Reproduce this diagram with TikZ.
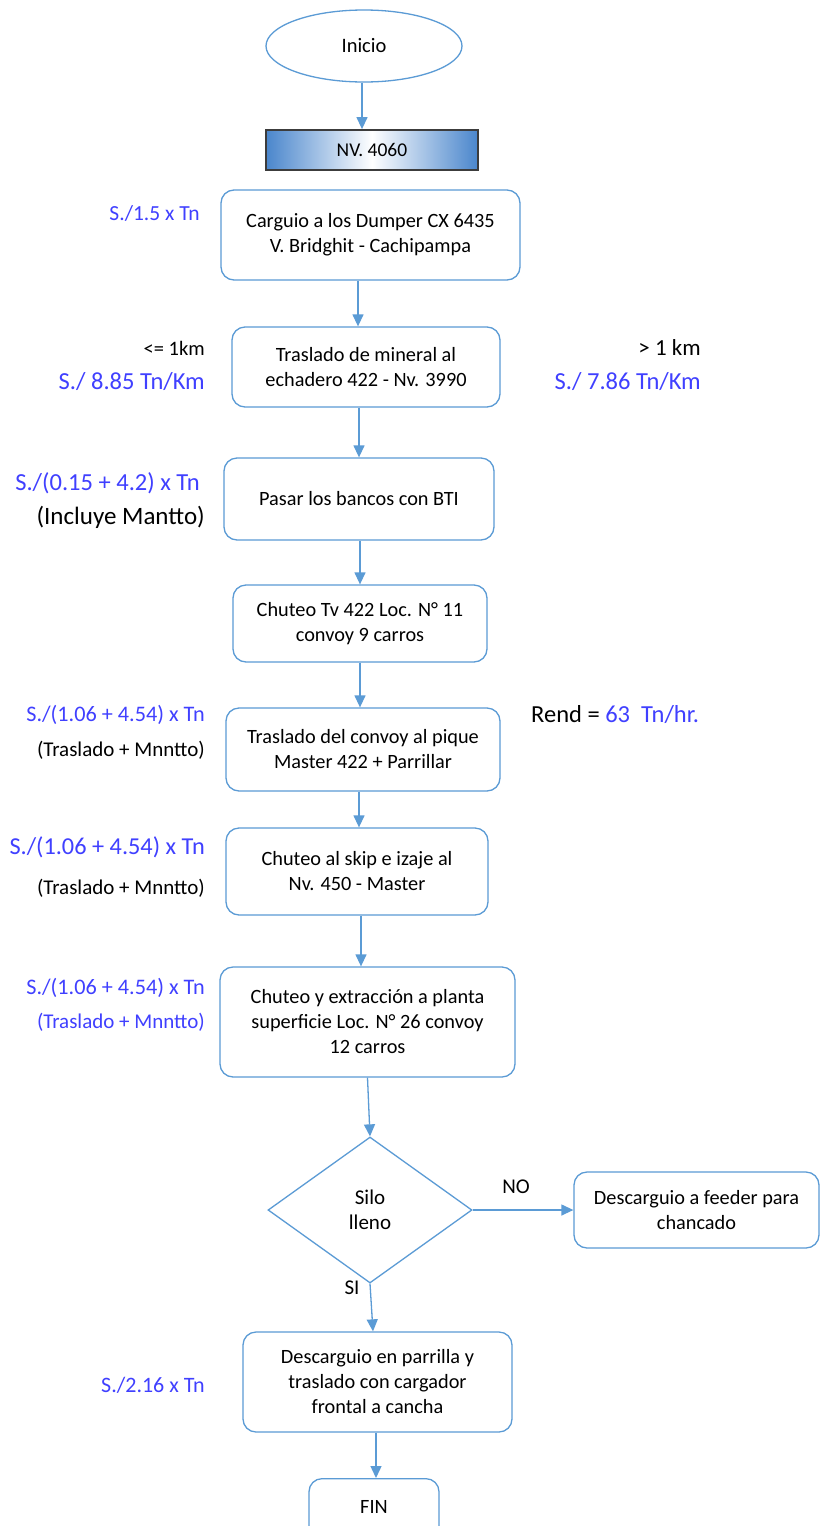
\documentclass[tikz,border=0pt]{standalone}
\usepackage{fontspec}
\setmainfont{Carlito}
\usetikzlibrary{shapes.geometric,arrows.meta}

\definecolor{lineblue}{RGB}{91,155,213}
\definecolor{costblue}{RGB}{64,64,255}
\definecolor{nvblue}{RGB}{74,134,204}
\definecolor{nvedge}{RGB}{60,60,60}

\newcommand{\fs}[1]{\fontsize{#1}{25}\selectfont}

\tikzset{
  x=1pt, y=-1pt,
  proc/.style={draw=lineblue, line width=1.3pt, rounded corners=13pt,
    align=center, inner sep=0pt, font=\fs{20.3}},
  startend/.style={draw=lineblue, line width=1.3pt, ellipse,
    inner sep=0pt, font=\fs{20.5}},
  decision/.style={draw=lineblue, line width=1.3pt, diamond, aspect=1.4,
    inner sep=0pt, align=center, font=\fs{21}},
  arr/.style={draw=lineblue, line width=1.3pt,
    -{Triangle[length=12pt,width=11pt]}},
  cost/.style={text=costblue, anchor=east, inner sep=0pt},
  note/.style={text=black, anchor=east, inner sep=0pt},
}

\begin{document}
\begin{tikzpicture}
\clip (0,0) rectangle (821,1526);
\fill[white] (0,0) rectangle (821,1526);

% main flow
\node[startend, minimum width=196, minimum height=72] (inicio) at (364,46) {Inicio};

\node[draw=nvedge, line width=1.8pt, minimum width=212, minimum height=40,
      inner sep=0pt, font=\fs{19.5},
      left color=nvblue, right color=nvblue, middle color=white]
      (nv) at (372,150) {NV. 4060};

\node[proc, minimum width=299, minimum height=90] (b1) at (370.5,235)
  {Carguio a los Dumper CX 6435\\V. Bridghit - Cachipampa};
\node[proc, minimum width=268, minimum height=80] (b2) at (366,367)
  {Traslado de mineral al\\echadero 422 - Nv. 3990};
\node[proc, minimum width=270, minimum height=82] (b3) at (359,499)
  {Pasar los bancos con BTI};
\node[proc, minimum width=254, minimum height=77] (b4) at (360,623.5)
  {Chuteo Tv 422 Loc. N° 11\\convoy 9 carros};
\node[proc, minimum width=274, minimum height=83] (b5) at (363,749.5)
  {Traslado del convoy al pique\\Master 422 + Parrillar};
\node[proc, minimum width=262, minimum height=87] (b6) at (357,871.5)
  {Chuteo al skip e izaje al\\Nv. 450 - Master};
\node[proc, minimum width=295, minimum height=110] (b7) at (367.5,1022)
  {Chuteo y extracción a planta\\superficie Loc. N° 26 convoy\\12 carros};

\node[decision, minimum width=204, minimum height=146] (silo) at (370,1210)
  {Silo\\lleno};
\node[proc, minimum width=245, minimum height=76] (feeder) at (696.5,1210)
  {Descarguio a feeder para\\chancado};

\node[proc, minimum width=269, minimum height=100] (b8) at (377.5,1382)
  {Descarguio en parrilla y\\traslado con cargador\\frontal a cancha};
\node[proc, anchor=north, minimum width=130, text height=34.5pt, text depth=46pt]
  (fin) at (374,1478) {FIN};

% connectors
\draw[arr] ([xshift=-2]inicio.south) -- ([xshift=-10]nv.north);
\draw[arr] ([xshift=-12.5]b1.south) -- ([xshift=-8]b2.north);
\draw[arr] ([xshift=-7]b2.south) -- (b3.north);
\draw[arr] ([xshift=1]b3.south) -- (b4.north);
\draw[arr] (b4.south) -- ([xshift=-3]b5.north);
\draw[arr] ([xshift=-4]b5.south) -- ([xshift=2]b6.north);
\draw[arr] ([xshift=4]b6.south) -- ([xshift=-6.5]b7.north);
\draw[arr] (b7.south) -- (silo.north);
\draw[arr] (silo.east) -- (feeder.west);
\draw[arr] (silo.south) -- ([xshift=-4.5]b8.north);
\draw[arr] ([xshift=-1.5]b8.south) -- ([xshift=2]fin.north);

% branch labels
\node[inner sep=0pt, font=\fs{21}] (no) at (516,1187) {NO};
\node[inner sep=0pt, font=\fs{21}] (si) at (352,1288) {SI};

% cost notes
\node[cost, font=\fs{21.5}] (c1) at (200,213) {S./1.5 x Tn};
\node[note, font=\fs{20.5}] (d1) at (205,348) {<= 1km};
\node[cost, font=\fs{24.5}] (c2) at (205,382) {S./ 8.85 Tn/Km};
\node[note, font=\fs{23}] (d2) at (701,348) {> 1 km};
\node[cost, font=\fs{24.5}] (c3) at (701,382) {S./ 7.86 Tn/Km};
\node[cost, font=\fs{24.5}] (c4) at (200,483) {S./(0.15 + 4.2) x Tn};
\node[note, font=\fs{25}] (m1) at (205,517) {(Incluye Mantto)};
\node[cost, font=\fs{22.2}] (c5) at (205,715) {S./(1.06 + 4.54) x Tn};
\node[note, font=\fs{21}] (m2) at (205,750) {(Traslado + Mnntto)};
\node[anchor=west, inner sep=0pt, font=\fs{24.5}] (rend) at (531,715)
  {Rend = \textcolor{costblue}{63\ \ Tn/hr.}};
\node[cost, font=\fs{24.3}] (c6) at (205,847) {S./(1.06 + 4.54) x Tn};
\node[note, font=\fs{21}] (m3) at (205,888) {(Traslado + Mnntto)};
\node[cost, font=\fs{22.2}] (c7) at (205,988) {S./(1.06 + 4.54) x Tn};
\node[cost, font=\fs{21}] (m4) at (205,1022) {(Traslado + Mnntto)};
\node[cost, font=\fs{22}] (c8) at (205,1385) {S./2.16 x Tn};
\end{tikzpicture}
\end{document}
